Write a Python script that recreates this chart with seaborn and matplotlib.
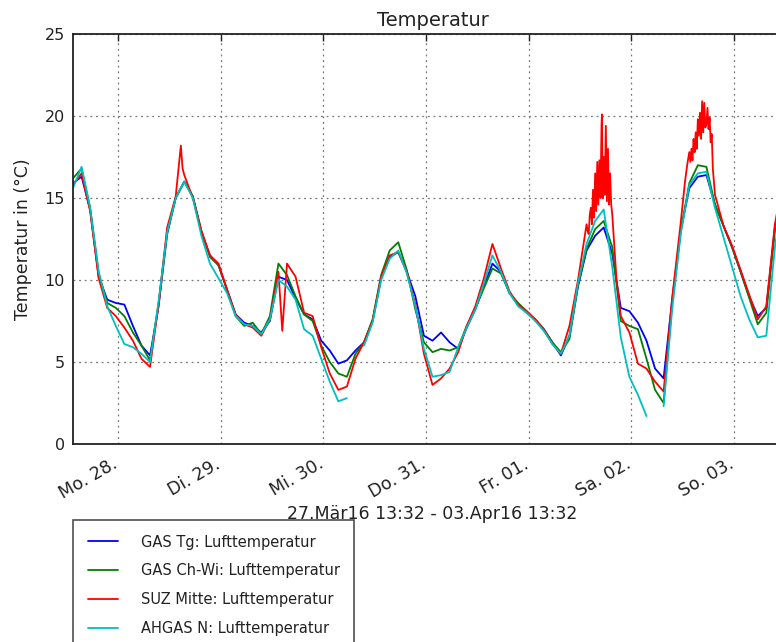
import numpy as np
import pandas as pd
import matplotlib
matplotlib.use("Agg")
import matplotlib.pyplot as plt
import matplotlib.transforms as mtransforms
from matplotlib.lines import Line2D
import seaborn as sns

# ---------------- data ----------------
start = "2016-03-27 13:32"
end = "2016-04-03 13:32"
# hours after start (common sampling grid, every 2 h)
hours = [0, 2, 4, 6, 8, 10, 12, 14, 16, 18, 20, 22, 24, 26, 28, 30, 32, 34, 36, 38,
         40, 42, 44, 46, 48, 50, 52, 54, 56, 58, 60, 62, 64, 66, 68, 70, 72, 74, 76, 78,
         80, 82, 84, 86, 88, 90, 92, 94, 96, 98, 100, 102, 104, 106, 108, 110, 112, 114, 116, 118,
         120, 122, 124, 126, 128, 130, 132, 134, 136, 138, 140, 142, 144, 146, 148, 150, 152, 154, 156, 158,
         160, 162, 164, 166]

gas_tg = [15.9, 16.3, 14.3, 10.2, 8.8, 8.6, 8.5, 7.2, 6.0, 5.4, 8.4, 12.8, 15.0, 16.0, 15.1, 12.9, 11.5, 10.9, 9.4, 7.9,
          7.4, 7.2, 6.8, 7.5, 10.2, 10.0, 8.9, 7.9, 7.6, 6.3, 5.7, 4.9, 5.1, 5.7, 6.2, 7.5, 10.1, 11.4, 11.7, 10.5,
          9.0, 6.6, 6.3, 6.8, 6.2, 5.8, 7.1, 8.2, 9.6, 11.0, 10.5, 9.2, 8.5, 8.0, 7.6, 7.0, 6.2, 5.4, 6.6, 9.6,
          11.8, 12.7, 13.2, 11.6, 8.3, 8.1, 7.4, 6.3, 4.6, 4.0, 8.8, 13.0, 15.6, 16.3, 16.4, 14.6, 13.3, 12.0, 10.5, 9.0,
          7.8, 8.3, 13.2, 16.0]

gas_chwi = [16.2, 16.8, 14.4, 10.4, 8.6, 8.3, 7.8, 6.8, 6.0, 5.1, 8.6, 12.9, 15.0, 16.0, 15.1, 13.0, 11.4, 10.9, 9.4, 7.8,
            7.2, 7.4, 6.7, 7.8, 11.0, 10.3, 9.0, 7.9, 7.5, 6.0, 5.0, 4.3, 4.1, 5.5, 6.2, 7.6, 10.3, 11.8, 12.3, 10.6,
            8.2, 6.2, 5.6, 5.8, 5.7, 5.9, 7.2, 8.3, 9.5, 10.7, 10.4, 9.2, 8.6, 8.1, 7.6, 7.0, 6.2, 5.6, 6.4, 9.7,
            11.9, 13.1, 13.6, 12.0, 7.5, 7.2, 7.0, 5.2, 3.3, 2.5, 8.6, 13.0, 15.9, 17.0, 16.9, 14.6, 13.3, 12.0, 10.5, 8.9,
            7.3, 8.0, 13.0, 16.0]

suz_mitte = [15.8, 16.5, 14.2, 10.1, 8.3, 7.8, 7.1, 6.3, 5.2, 4.7, 8.5, 13.2, 15.1, 16.4, 15.0, 13.0, 11.5, 11.0, 9.4, 7.9,
             7.3, 7.1, 6.6, 7.6, 10.5, 11.0, 10.2, 8.0, 7.8, 5.9, 4.3, 3.3, 3.5, 5.2, 6.2, 7.5, 10.2, 11.5, 11.7, 10.5,
             8.5, 5.5, 3.6, 4.0, 4.6, 5.6, 7.2, 8.4, 10.1, 12.2, 10.7, 9.3, 8.5, 8.1, 7.6, 7.0, 6.1, 5.5, 7.2, 10.0,
             13.4, 16.5, 17.5, 14.0, 7.8, 6.8, 4.9, 4.6, 3.8, 3.2, 8.9, 13.5, 17.8, 19.8, 19.5, 15.2, 13.3, 12.1, 10.6, 9.1,
             7.6, 8.4, 13.4, 16.2]
# extra (noisy) readings of the SUZ station
suz_extra_hours = [25.2, 25.6, 48.9,
                   120.25, 120.5, 120.75, 121, 121.25, 121.5, 121.75, 122.25, 122.5, 122.75, 123, 123.25,
                   123.5, 123.6, 123.75, 124.25, 124.5, 124.75, 125, 125.25, 125.5, 125.75, 127,
                   143, 143.5, 144.25, 144.5, 144.75, 145, 145.25, 145.5, 145.75, 146.25, 146.5, 146.75,
                   147, 147.25, 147.5, 147.75, 148.25, 148.5, 148.75, 149, 149.25, 149.5]
suz_extra_vals = [18.2, 16.8, 6.9,
                  13.0, 12.8, 14.0, 14.4, 13.4, 15.5, 13.8, 14.2, 17.2, 14.6, 17.3, 15.0,
                  19.5, 20.1, 15.0, 15.2, 19.4, 14.8, 18.0, 14.6, 16.5, 14.6, 10.0,
                  16.0, 17.0, 17.2, 18.0, 17.3, 18.6, 17.8, 19.0, 18.0, 18.8, 20.2, 18.6,
                  20.9, 19.0, 20.8, 19.3, 20.5, 19.2, 19.9, 18.4, 18.9, 16.8]

ahgas_n = [15.6, 16.9, 14.4, 10.5, 8.4, 7.2, 6.1, 5.9, 5.5, 5.0, 8.7, 12.9, 15.0, 16.0, 15.0, 12.7, 11.0, 10.1, 9.2, 7.8,
           7.3, 7.2, 6.7, 7.6, 10.0, 9.6, 8.8, 7.0, 6.6, 5.2, 3.8, 2.6, 2.8, np.nan, 6.0, 7.4, 10.0, 11.3, 11.8, 10.4,
           8.4, 5.8, 4.1, 4.2, 4.4, 5.9, 7.1, 8.2, 9.8, 11.5, 10.5, 9.2, 8.4, 8.0, 7.5, 6.9, 6.1, 5.5, 6.6, 9.8,
           12.2, 13.6, 14.3, 10.8, 6.5, 4.1, 3.0, 1.7, np.nan, 2.3, 8.2, 12.8, 15.8, 16.5, 16.6, 14.4, 12.6, 10.8, 9.0, 7.6,
           6.5, 6.6, 12.0, 15.5]

series_names = ["GAS Tg: Lufttemperatur", "GAS Ch-Wi: Lufttemperatur",
                "SUZ Mitte: Lufttemperatur", "AHGAS N: Lufttemperatur"]
series_colors = ["#0000ff", "#008000", "#ff0000", "#00bfbf"]
day_ticks = ["2016-03-28", "2016-03-29", "2016-03-30", "2016-03-31", "2016-04-01", "2016-04-02", "2016-04-03"]
day_labels = ["Mo. 28.", "Di. 29.", "Mi. 30.", "Do. 31.", "Fr. 01.", "Sa. 02.", "So. 03."]
y_ticks = [0, 5, 10, 15, 20, 25]

# ---------------- build long table ----------------
t0 = pd.Timestamp(start)
frames = []
red_h = hours + suz_extra_hours
red_v = suz_mitte + suz_extra_vals
for name, hh, vv in [(series_names[0], hours, gas_tg), (series_names[1], hours, gas_chwi),
                     (series_names[2], red_h, red_v), (series_names[3], hours, ahgas_n)]:
    d = pd.DataFrame({"h": hh, "temp": vv}).sort_values("h").reset_index(drop=True)
    seg = d["temp"].isna().cumsum()
    d["seg"] = [f"{name}-{s}" for s in seg]
    d = d.dropna()
    d["time"] = t0 + pd.to_timedelta(d["h"], unit="h")
    d["series"] = name
    frames.append(d)
df = pd.concat(frames, ignore_index=True)

# ---------------- plot ----------------
sns.set_theme(style="white")
plt.rcParams["font.family"] = ["DejaVu Sans"]

fig = plt.figure(figsize=(7.76, 6.42), dpi=100)
ax = fig.add_axes([73 / 776, (642 - 444) / 642, 719 / 776, 410 / 642])

sns.lineplot(data=df, x="time", y="temp", hue="series", units="seg", estimator=None,
             sort=False, palette=dict(zip(series_names, series_colors)),
             hue_order=series_names, linewidth=1.3, legend=False, ax=ax)

ax.set_xlim(pd.Timestamp(start), pd.Timestamp(end))
ax.set_ylim(0, 25)
ax.set_yticks(y_ticks)
ax.set_xticks(pd.to_datetime(day_ticks))
ax.set_xticklabels(day_labels, rotation=30, ha="right", rotation_mode="anchor")
ax.tick_params(axis="both", direction="in", length=5, width=1, top=True, right=True,
               labelsize=11.5, colors="#222222", pad=6)
ax.tick_params(axis="x", labelsize=12.5, pad=8)
shift = mtransforms.ScaledTranslation(-6 / 100, 0, fig.dpi_scale_trans)
for lab in ax.get_xticklabels():
    lab.set_transform(lab.get_transform() + shift)
for sp in ax.spines.values():
    sp.set_visible(True)
    sp.set_color("#222222")
    sp.set_linewidth(1.3)
ax.grid(True, color="#777777", linestyle=(0, (1.5, 3)), linewidth=0.9)

ax.set_title("Temperatur", fontsize=14, color="#222222", pad=6)
ax.set_ylabel("Temperatur in (°C)", fontsize=12.5, color="#222222", labelpad=9)
ax.set_xlabel("27.Mär16 13:32 - 03.Apr16 13:32", fontsize=12.5, color="#222222")
ax.xaxis.set_label_coords(0.5, -0.149)

handles = [Line2D([0], [0], color=c, linewidth=1.3) for c in series_colors]
leg = fig.legend(handles, series_names, loc="upper left",
                 bbox_to_anchor=(73 / 776, 1 - 520 / 642), frameon=True, fancybox=False,
                 fontsize=10.5, labelspacing=0.95, handlelength=2.1, handletextpad=1.55,
                 borderpad=1.0, borderaxespad=0)
leg.get_frame().set_edgecolor("#222222")
leg.get_frame().set_linewidth(1.2)
for txt in leg.get_texts():
    txt.set_color("#222222")

fig.savefig("out.png", dpi=100)
